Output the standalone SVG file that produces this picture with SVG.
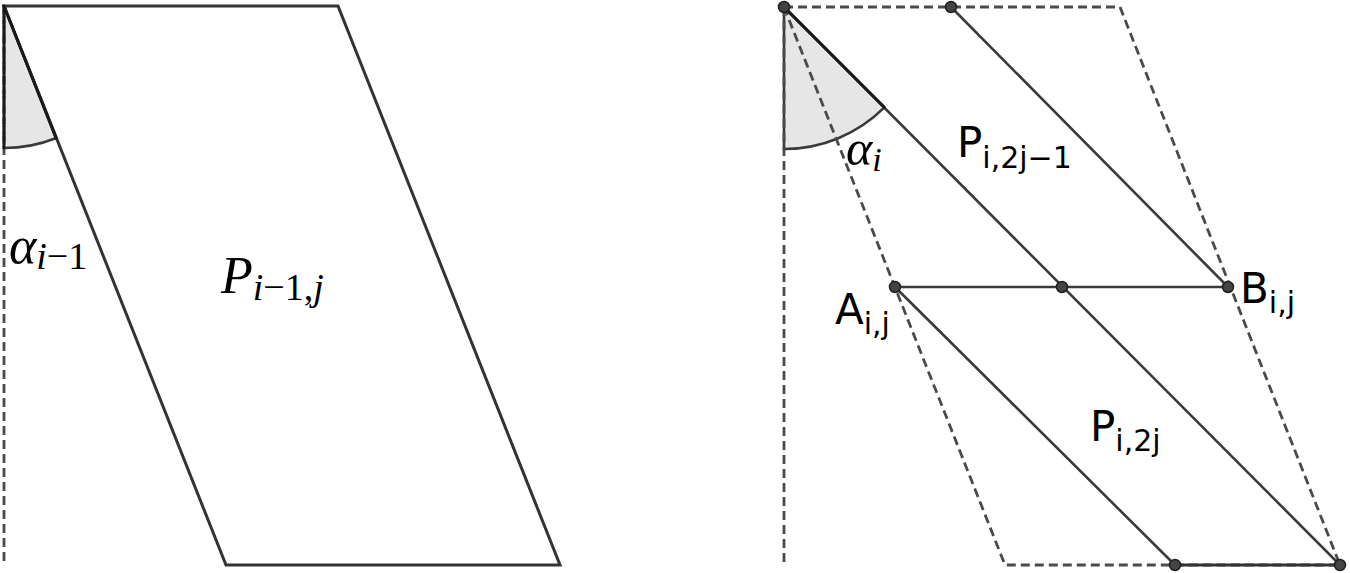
<svg xmlns="http://www.w3.org/2000/svg" width="1350" height="573" viewBox="0 0 1350 573">
<style>
.ln{stroke:#3a3a3a;stroke-width:2.6;fill:none;stroke-linecap:round}
.dk{stroke:#1a1a1a;stroke-width:3;fill:none;stroke-linecap:round}
.ds{stroke:#4a4a4a;stroke-width:2.8;fill:none;stroke-dasharray:9 5}
.wedge{fill:#e6e6e6;stroke:#3a3a3a;stroke-width:2.6}
.pt{fill:#444;stroke:#1f1f1f;stroke-width:1.5}
.m{font-family:"Liberation Serif",serif;font-style:italic;fill:#000}
.mu{font-family:"Liberation Serif",serif;font-style:normal;fill:#000}
.s{font-family:"DejaVu Sans",sans-serif;fill:#000}
</style>
<rect width="1350" height="573" fill="#fff"/>
<g id="left-figure">
  <path class="wedge" d="M4,6 L4,148 A142,142 0 0 0 56.4,138 Z"/>
  <line class="ds" x1="4" y1="6" x2="4" y2="565"/>
  <polygon class="ln" points="4,6 338,6 560,565 226,565" style="stroke:#333;stroke-width:3"/>
  <line class="dk" x1="4" y1="6" x2="56" y2="138"/>
  <line class="dk" x1="4" y1="6" x2="4" y2="148" style="stroke-dasharray:8 2"/>
  <text class="m" x="9" y="263" font-size="52">α<tspan font-size="38" dy="6">i</tspan><tspan class="mu" font-size="38">−1</tspan></text>
  <text class="m" x="221" y="293" font-size="52">P<tspan font-size="38" dy="7">i</tspan><tspan class="mu" font-size="38">−1,</tspan><tspan font-size="38">j</tspan></text>
</g>
<g id="right-figure">
  <path class="wedge" d="M784,7 L784,149 A142,142 0 0 0 884.4,107.4 Z"/>
  <line class="ds" x1="784" y1="7" x2="784" y2="565"/>
  <polygon class="ds" points="784,7 1120,7 1340,565 1005,565" style="stroke-linejoin:round"/>
  <line class="ln" x1="784" y1="7" x2="1340" y2="565"/>
  <line class="ln" x1="951" y1="7" x2="1228" y2="287"/>
  <line class="ln" x1="895" y1="287" x2="1175" y2="565"/>
  <line class="ln" x1="895" y1="287" x2="1228" y2="287"/>
  <line class="dk" x1="1175" y1="565" x2="1340" y2="565" style="stroke:#333"/>
  <line class="dk" x1="784" y1="7" x2="884" y2="107"/>
  <text class="m" x="846" y="165" font-size="50">α<tspan font-size="34" dy="6">i</tspan></text>
  <text class="s" x="957" y="157" font-size="42">P<tspan font-size="30" dy="11">i,2j−1</tspan></text>
  <text class="s" x="835" y="324" font-size="42">A<tspan font-size="30" dy="10">i,j</tspan></text>
  <text class="s" x="1240" y="303" font-size="42">B<tspan font-size="30" dy="10">i,j</tspan></text>
  <text class="s" x="1090" y="441" font-size="42">P<tspan font-size="30" dy="10">i,2j</tspan></text>
</g>
<g id="points">
  <circle class="pt" cx="784" cy="7" r="5.5"/>
  <circle class="pt" cx="951" cy="7" r="5.5"/>
  <circle class="pt" cx="895" cy="287" r="5.5"/>
  <circle class="pt" cx="1062" cy="287" r="5.5"/>
  <circle class="pt" cx="1228" cy="287" r="5.5"/>
  <circle class="pt" cx="1175" cy="565" r="5.5"/>
  <circle class="pt" cx="1340" cy="565" r="5.5"/>
</g>
</svg>
